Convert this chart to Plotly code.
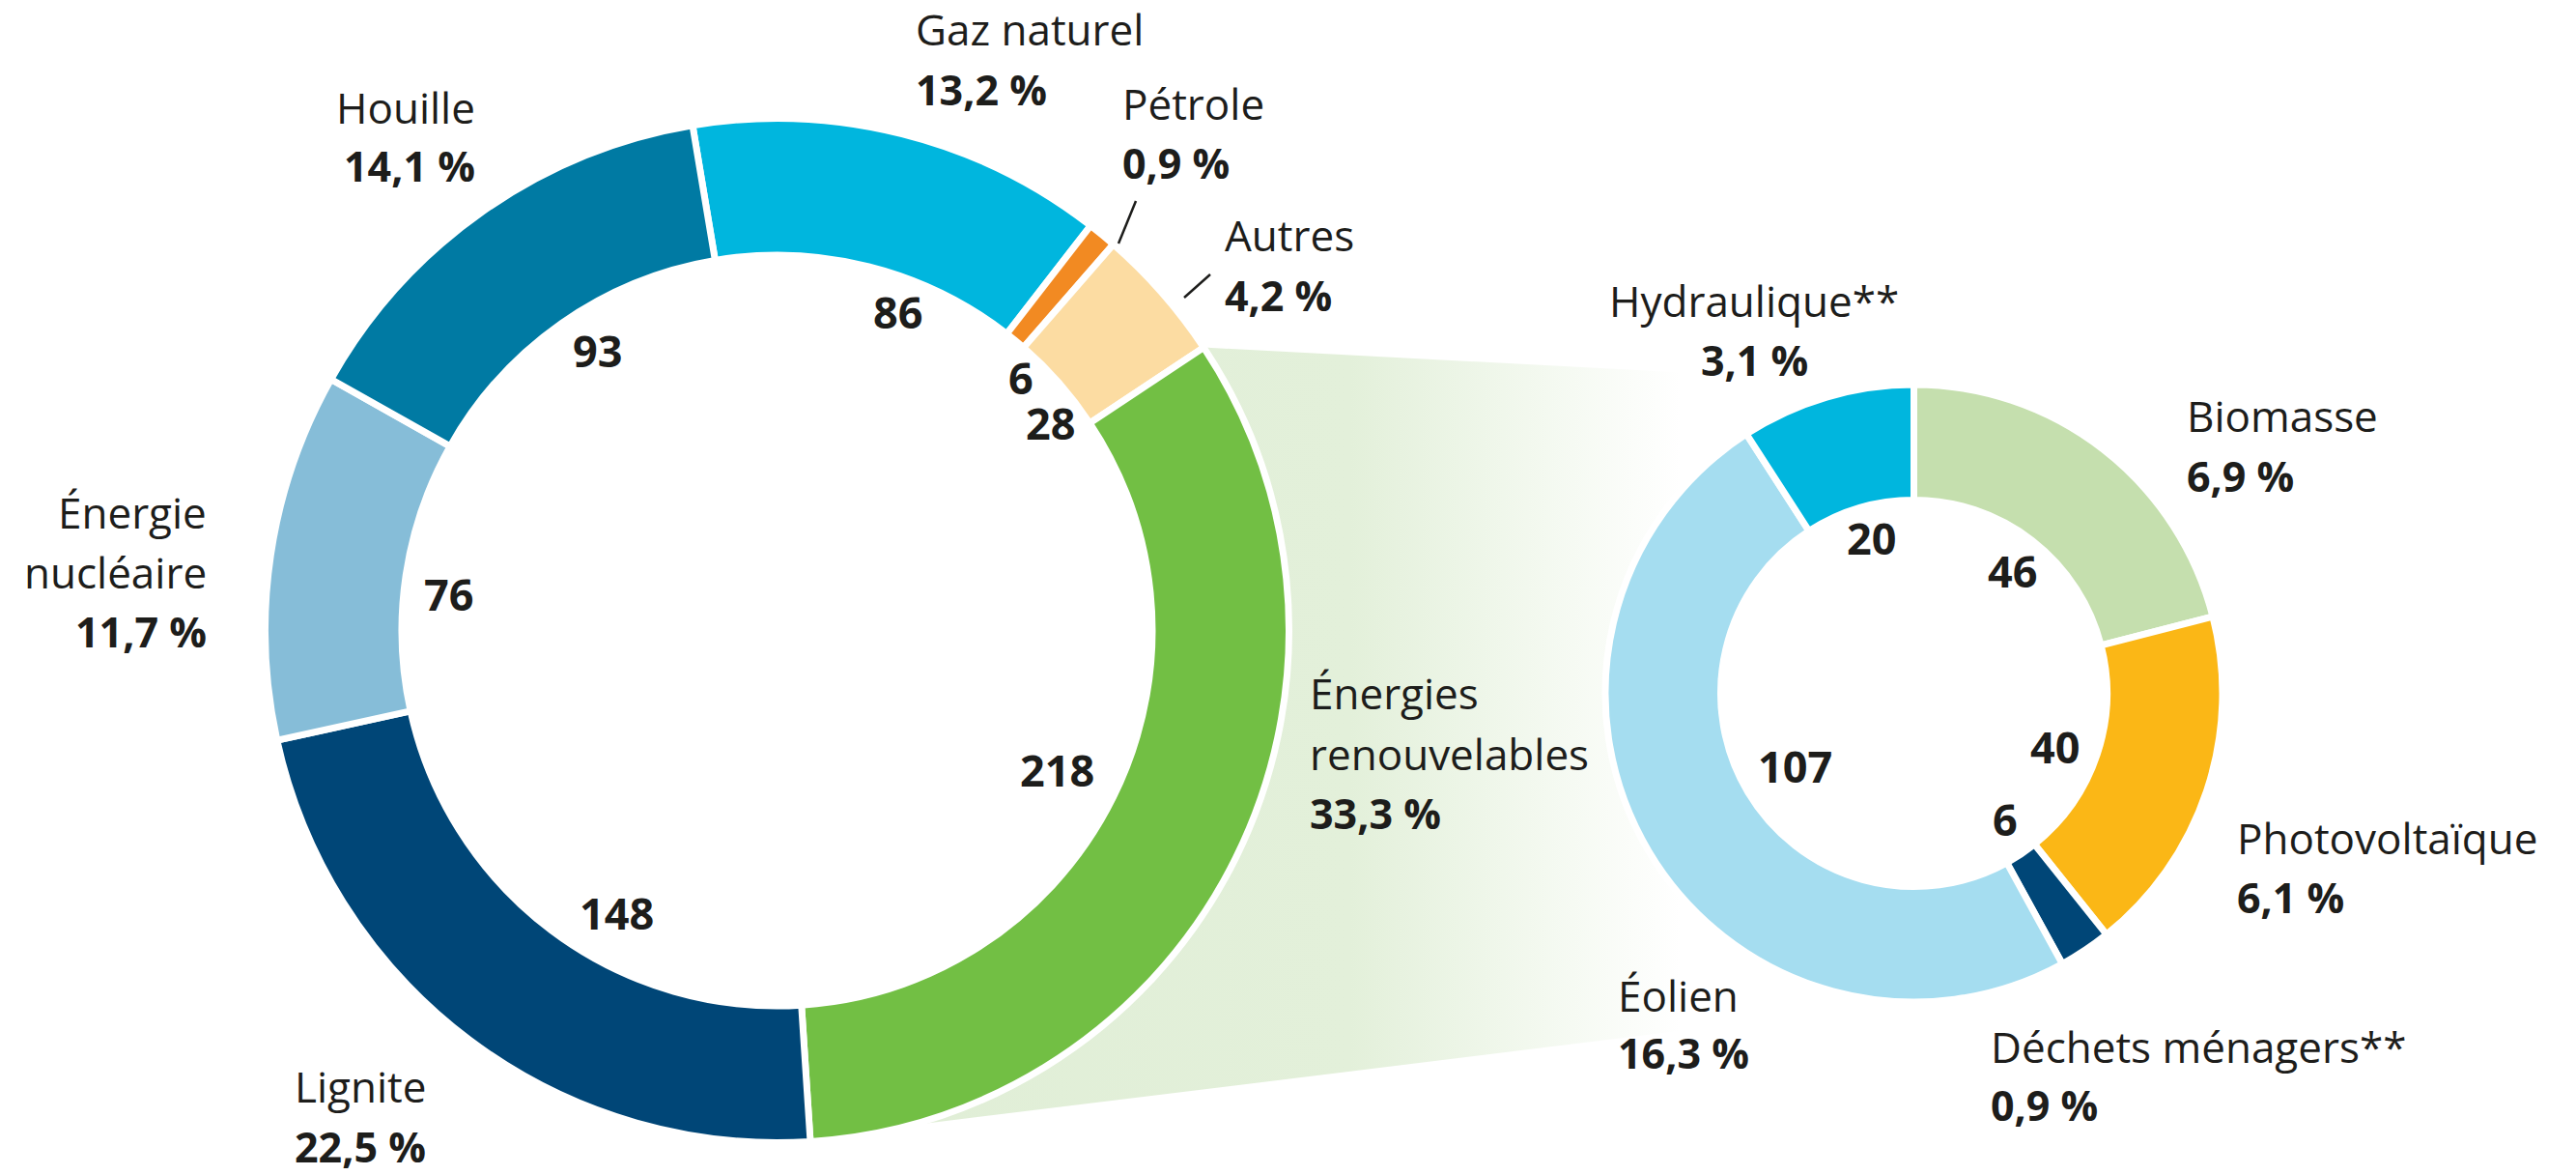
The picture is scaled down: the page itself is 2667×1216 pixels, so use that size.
import numpy as np
import plotly.graph_objects as go

W, H = 2667, 1216

# ---------------- data ----------------
main_labels = ["Gaz naturel", "Pétrole", "Autres", "Énergies renouvelables",
               "Lignite", "Énergie nucléaire", "Houille"]
main_values = [86, 6, 28, 218, 148, 76, 93]
main_shares = ["13,2 %", "0,9 %", "4,2 %", "33,3 %", "22,5 %", "11,7 %", "14,1 %"]

ren_labels = ["Biomasse", "Photovoltaïque", "Déchets ménagers**", "Éolien", "Hydraulique**"]
ren_values = [46, 40, 6, 107, 20]
ren_shares = ["6,9 %", "6,1 %", "0,9 %", "16,3 %", "3,1 %"]

# ---------------- style ----------------
main_colors = ["#00B6DE", "#F28A22", "#FCDCA2", "#72BF44", "#004677", "#86BDD8", "#007AA3"]
ren_colors = ["#C5DFAE", "#FBB716", "#004677", "#A5DDF0", "#00B6DE"]
TXT = "#1d1d1b"
FONT = "Open Sans"

# donut geometry (pixels)
M_CX, M_CY, M_R, M_HOLE, M_ROT = 804.5, 652.5, 530, 0.733, -9.5
R_CX, R_CY, R_R, R_HOLE, R_ROT = 1981.5, 717.5, 319.5, 0.626, 0

def dom(cx, cy, r):
    return dict(x=[(cx - r) / W, (cx + r) / W], y=[1 - (cy + r) / H, 1 - (cy - r) / H])

# label layout (pixels): name lines, x, anchor, y of each name line, y of share line
main_lab_pos = {
    "Gaz naturel": (["Gaz naturel"], 946, "left", [30], 92),
    "Pétrole": (["Pétrole"], 1160, "left", [107], 168),
    "Autres": (["Autres"], 1266, "left", [243], 305),
    "Énergies renouvelables": (["Énergies", "renouvelables"], 1354, "left", [717, 780], 841),
    "Lignite": (["Lignite"], 303, "left", [1124], 1186),
    "Énergie nucléaire": (["Énergie", "nucléaire"], 216, "right", [530, 592], 653),
    "Houille": (["Houille"], 494, "right", [111], 171),
}
ren_lab_pos = {
    "Biomasse": (["Biomasse"], 2262, "left", [430], 492),
    "Photovoltaïque": (["Photovoltaïque"], 2314, "left", [867], 928),
    "Déchets ménagers**": (["Déchets ménagers**"], 2059, "left", [1083], 1143),
    "Éolien": (["Éolien"], 1673, "left", [1030], 1089),
    "Hydraulique**": (["Hydraulique**"], 1816, "center", [311], 372),
}
main_num_pos = {"Gaz naturel": (929, 322), "Pétrole": (1057, 390), "Autres": (1087, 437),
                "Énergies renouvelables": (1094, 796), "Lignite": (638, 944),
                "Énergie nucléaire": (464, 614), "Houille": (618, 362)}
ren_num_pos = {"Biomasse": (2083, 590), "Photovoltaïque": (2127, 772),
               "Déchets ménagers**": (2076, 847), "Éolien": (1858, 792),
               "Hydraulique**": (1937, 556)}
leaders = [((1158, 252), (1176, 208)), ((1226, 308), (1253, 284))]

fig = go.Figure()

# ---------------- connector with gradient ----------------
tot = sum(main_values)
idx = main_labels.index("Énergies renouvelables")
a0 = M_ROT + 360 * sum(main_values[:idx]) / tot
a1 = a0 + 360 * main_values[idx] / tot
arc = np.radians(np.linspace(a1, a0, 60))
px = [M_CX + M_R * np.sin(np.radians(a0)), R_CX, R_CX] + list(M_CX + (M_R - 4) * np.sin(arc))
py = [M_CY - M_R * np.cos(np.radians(a0)), R_CY - R_R, R_CY + R_R] + list(M_CY - (M_R - 4) * np.cos(arc))
px.append(px[0]); py.append(py[0])
g_start = min(px)
g_stop = R_CX - R_R + 78
fig.add_trace(go.Scatter(
    x=px, y=py, mode="lines", line=dict(width=0), fill="toself",
    fillgradient=dict(type="horizontal", start=g_start, stop=g_stop,
                      colorscale=[[0, "#E0EED6"], [0.62, "#E3F0DA"], [1, "#FFFFFF"]]),
    hoverinfo="skip", showlegend=False))

# ---------------- donuts ----------------
fig.add_trace(go.Pie(
    labels=main_labels, values=main_values, sort=False, direction="clockwise",
    rotation=M_ROT, hole=M_HOLE, domain=dom(M_CX, M_CY, M_R),
    marker=dict(colors=main_colors, line=dict(color="white", width=7)),
    textinfo="none", hoverinfo="label+value", showlegend=False))
fig.add_trace(go.Pie(
    labels=ren_labels, values=ren_values, sort=False, direction="clockwise",
    rotation=R_ROT, hole=R_HOLE, domain=dom(R_CX, R_CY, R_R),
    marker=dict(colors=ren_colors, line=dict(color="white", width=7)),
    textinfo="none", hoverinfo="label+value", showlegend=False))

# ---------------- annotations ----------------
ann = []
def add_labels(labels, values, shares, lab_pos, num_pos):
    for lab, val, sh in zip(labels, values, shares):
        lines, x, anc, ys, ysh = lab_pos[lab]
        for t, y in zip(lines, ys):
            ann.append(dict(x=x, y=y, xref="x", yref="y", text=t, showarrow=False,
                            xanchor=anc, yanchor="middle",
                            font=dict(family=FONT, size=44, color=TXT)))
        ann.append(dict(x=x, y=ysh, xref="x", yref="y", text=f"<b>{sh}</b>", showarrow=False,
                        xanchor=anc, yanchor="middle",
                        font=dict(family=FONT, size=43, color=TXT)))
        nx, ny = num_pos[lab]
        ann.append(dict(x=nx, y=ny, xref="x", yref="y", text=f"<b>{val}</b>", showarrow=False,
                        xanchor="center", yanchor="middle",
                        font=dict(family=FONT, size=45, color=TXT)))

add_labels(main_labels, main_values, main_shares, main_lab_pos, main_num_pos)
add_labels(ren_labels, ren_values, ren_shares, ren_lab_pos, ren_num_pos)

shapes = [dict(type="line", xref="x", yref="y", x0=p[0], y0=p[1], x1=q[0], y1=q[1],
               line=dict(color=TXT, width=2.5)) for p, q in leaders]

fig.update_layout(
    width=W, height=H, margin=dict(l=0, r=0, t=0, b=0),
    paper_bgcolor="white", plot_bgcolor="rgba(0,0,0,0)",
    xaxis=dict(range=[0, W], visible=False, fixedrange=True),
    yaxis=dict(range=[H, 0], visible=False, fixedrange=True),
    annotations=ann, shapes=shapes, showlegend=False,
)

fig.write_html("out.html", config={"displayModeBar": False},
               post_script="document.body.style.margin='0';document.body.style.overflow='hidden';")
